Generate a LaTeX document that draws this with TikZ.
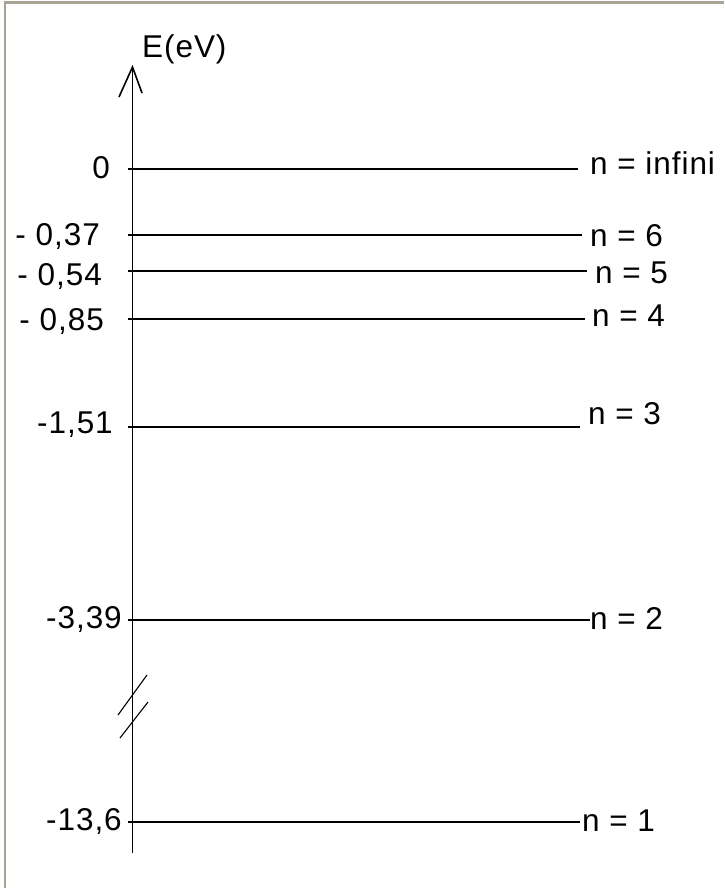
\documentclass[tikz,border=0pt]{standalone}
\usepackage{fontspec}
\setmainfont{Liberation Sans}[LetterSpace=3]
\begin{document}
\begin{tikzpicture}[x=1pt,y=-1pt,
  level/.style={line width=1.9pt,black},
  axisline/.style={line width=1.9pt,black},
  lbl/.style={inner sep=0pt,font=\fontsize{31.5}{36}\selectfont},
  frameline/.style={line width=2.5pt,color={rgb,255:red,168;green,163;blue,148}},
  brk/.style={line width=1.1pt,black}]
\useasboundingbox (0,0) rectangle (724,888);
\fill[white] (0,0) rectangle (724,888);
% frame (top and left only)
\coordinate (fr2) at (724,2.5);
\coordinate (fr3) at (5,888);
\draw[frameline] (fr3) -- (5,2.5) -- (fr2);
% axis
\coordinate (axb) at (132.5,853);
\coordinate (axt) at (132.5,67);
\coordinate (awl) at (119,97);
\coordinate (awr) at (142,93);
\draw[axisline] (axb) -- (axt);
\draw[line width=1.6pt] (awl) -- (axt) -- (awr);
\node[lbl,anchor=base west] (ylab) at (142,58) {E(eV)};
% break marks
\coordinate (b1a) at (118,715); \coordinate (b1b) at (147,675);
\coordinate (b2a) at (120,738); \coordinate (b2b) at (148,702);
\draw[brk] (b1a) -- (b1b);
\draw[brk] (b2a) -- (b2b);
% levels
\coordinate (s0) at (128,169);   \coordinate (e0) at (578,169);
\coordinate (s6) at (128,235);   \coordinate (e6) at (582,235);
\coordinate (s5) at (128,271);   \coordinate (e5) at (587,271);
\coordinate (s4) at (128,319);   \coordinate (e4) at (585,319);
\coordinate (s3) at (128,427);   \coordinate (e3) at (580,427);
\coordinate (s2) at (128,620);   \coordinate (e2) at (590,620);
\coordinate (s1) at (128,822);   \coordinate (e1) at (580,822);
\foreach \k in {0,6,5,4,3,2,1} \draw[level] (s\k) -- (e\k);
% right labels
\node[lbl,anchor=base west] (r0) at (590,174) {n = infini};
\node[lbl,anchor=base west] (r6) at (590,246) {n = 6};
\node[lbl,anchor=base west] (r5) at (595,283) {n = 5};
\node[lbl,anchor=base west] (r4) at (592,326) {n = 4};
\node[lbl,anchor=base west] (r3) at (588,424) {n = 3};
\node[lbl,anchor=base west] (r2) at (590,629) {n = 2};
\node[lbl,anchor=base west] (r1) at (582,831) {n = 1};
% left labels
\node[lbl,anchor=base east] (l0) at (110,178) {0};
\node[lbl,anchor=base east] (l6) at (100,245) {- 0,37};
\node[lbl,anchor=base east] (l5) at (102,285) {- 0,54};
\node[lbl,anchor=base east] (l4) at (104,330) {- 0,85};
\node[lbl,anchor=base east] (l3) at (113,433) {-1,51};
\node[lbl,anchor=base east] (l2) at (122,628) {-3,39};
\node[lbl,anchor=base east] (l1) at (122,830) {-13,6};
\end{tikzpicture}
\end{document}
